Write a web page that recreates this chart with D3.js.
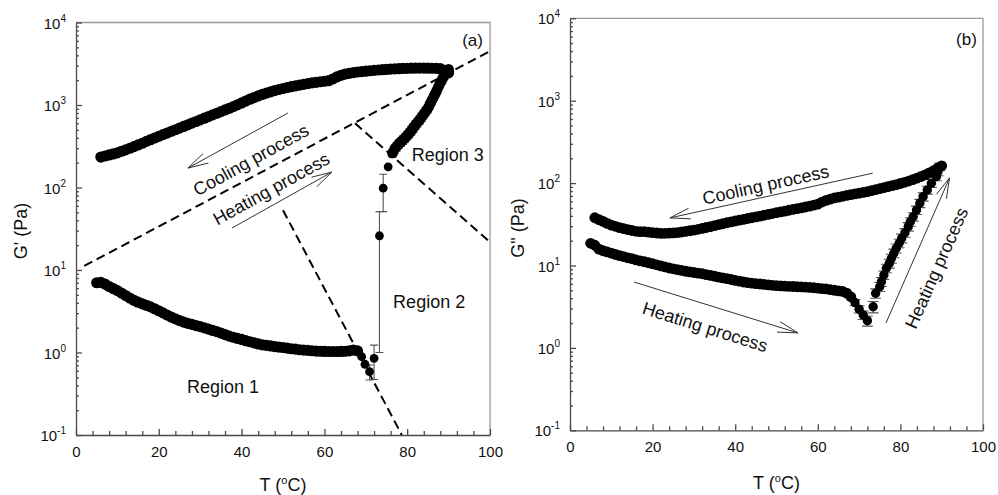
<!DOCTYPE html>
<html>
<head>
<meta charset="utf-8">
<script src="https://cdn.jsdelivr.net/npm/d3@7"></script>
<style>
  body { margin: 0; background: #fff; }
  svg { display: block; font-family: "Liberation Sans", Arial, Helvetica, sans-serif; }
</style>
</head>
<body>
<svg id="chart" width="998" height="495"></svg>
<script>
// ---- (a) storage modulus G' (Pa) vs temperature T (°C) ----
// cooling run, [T, G']
const coolingA = [
  [6,234],[7,241],[8,248],[9,255],[10,263],[11,275],[12,286],[13,299],[14,313],[15,328],
  [16,344],[17,362],[18,380],[19,398],[20,417],[21,437],[22,457],[23,479],[24,501],[25,525],
  [26,550],[27,575],[28,603],[29,631],[30,661],[31,692],[32,724],[33,759],[34,794],[35,832],
  [36,871],[37,912],[38,955],[39,1005],[40,1059],[41,1117],[42,1175],[43,1230],[44,1288],[45,1343],
  [46,1396],[47,1445],[48,1496],[49,1542],[50,1585],[51,1626],[52,1667],[53,1706],[54,1746],[55,1782],
  [56,1820],[57,1854],[58,1884],[59,1914],[60,1941],[61,1972],[62,2065],[63,2188],[64,2291],[65,2371],
  [66,2415],[67,2466],[68,2512],[69,2541],[70,2570],[71,2600],[72,2630],[73,2655],[74,2679],[75,2698],
  [76,2723],[77,2742],[78,2754],[79,2773],[80,2786],[81,2795],[82,2800],[83,2800],[84,2800],[85,2795],
  [86,2790],[87,2786],[88,2754],[89,2630],[90,2455]
];
// heating run, region 1, [T, G']
const heatingA = [
  [5,7.01],[6,7.08],[7,6.76],[8,6.31],[9,5.96],[10,5.62],[11,5.25],[12,4.90],[13,4.57],[14,4.29],
  [15,4.07],[16,3.89],[17,3.73],[18,3.57],[19,3.39],[20,3.20],[21,3.02],[22,2.85],[23,2.69],[24,2.56],
  [25,2.44],[26,2.34],[27,2.26],[28,2.19],[29,2.12],[30,2.06],[31,1.99],[32,1.92],[33,1.85],[34,1.79],
  [35,1.72],[36,1.65],[37,1.58],[38,1.53],[39,1.48],[40,1.44],[41,1.39],[42,1.35],[43,1.31],[44,1.27],
  [45,1.24],[46,1.22],[47,1.20],[48,1.18],[49,1.165],[50,1.15],[51,1.13],[52,1.11],[53,1.10],[54,1.08],
  [55,1.07],[56,1.06],[57,1.05],[58,1.04],[59,1.035],[60,1.03],[61,1.028],[62,1.028],[63,1.028],[64,1.03],
  [65,1.035],[66,1.047],[67,1.07],[68,1.047]
];
// heating run, region 2 (sparse points), [T, G', error]
const transitionA = [
  [69,0.89,0],[69.8,0.72,0],[70.9,0.585,0.12],[72,0.85,0.38],
  [73.3,26,25],[74.2,98,47],[75.4,178,0],[76.3,255,0]
];
// heating run, region 3, [T, G', error]
const region3A = [
  [76.5,263,30],[77,295,35],[77.5,316,38],[78,339,40],[78.5,357,43],[79,377,45],[79.5,401,48],
  [80,427,50],[80.5,457,55],[81,490,60],[81.5,531,65],[82,575,70],[82.5,617,75],[83,661,80],
  [83.5,716,85],[84,776,95],[84.5,841,100],[85,912,110],[85.5,1023,125],[86,1148,140],
  [86.5,1288,155],[87,1445,175],[87.5,1641,200],[88,1862,220],[88.5,2065,250],[89,2291,270],
  [89.5,2512,300],[90,2692,320]
];

// ---- (b) loss modulus G" (Pa) vs temperature T (°C) ----
// cooling run, [T, G"]
const coolingB = [
  [6,38.0],[7,36.1],[8,34.3],[9,32.5],[10,30.9],[11,29.9],[12,28.8],[13,28.0],[14,27.2],[15,26.6],
  [16,26.0],[17,25.8],[18,25.7],[19,25.4],[20,25.1],[21,24.8],[22,24.5],[23,24.6],[24,24.7],[25,24.9],
  [26,25.1],[27,25.5],[28,25.9],[29,26.4],[30,26.9],[31,27.5],[32,28.2],[33,28.9],[34,29.6],[35,30.4],
  [36,31.3],[37,32.1],[38,33.0],[39,33.8],[40,34.7],[41,35.5],[42,36.3],[43,37.2],[44,38.0],[45,38.9],
  [46,39.8],[47,40.7],[48,41.7],[49,42.7],[50,43.7],[51,44.7],[52,45.7],[53,46.8],[54,47.9],[55,49.0],
  [56,50.1],[57,51.3],[58,52.5],[59,54.0],[60,55.6],[61,58.9],[62,61.7],[63,63.8],[64,66.1],[65,67.6],
  [66,69.2],[67,70.8],[68,72.4],[69,74.0],[70,75.5],[71,77.1],[72,78.9],[73,80.9],[74,83.2],[75,85.5],
  [76,88.1],[77,90.6],[78,93.3],[79,95.9],[80,98.9],[81,102.3],[82,105.9],[83,110.2],[84,114.8],[85,120.2],
  [86,125.9],[87,133.4],[88,141.3],[89,151.4],[90,162.2]
];
// heating run up to the minimum, [T, G"]
const heatingB = [
  [5,18.6],[6,17.6],[7,15.8],[8,15.1],[9,14.6],[10,14.1],[11,13.6],[12,13.2],[13,12.8],[14,12.4],
  [15,12.1],[16,11.7],[17,11.4],[18,11.1],[19,10.8],[20,10.5],[21,10.2],[22,9.89],[23,9.6],[24,9.33],
  [25,9.12],[26,8.91],[27,8.71],[28,8.51],[29,8.36],[30,8.22],[31,8.07],[32,7.94],[33,7.76],[34,7.59],
  [35,7.41],[36,7.24],[37,7.08],[38,6.92],[39,6.76],[40,6.61],[41,6.46],[42,6.31],[43,6.19],[44,6.10],
  [45,6.03],[46,5.96],[47,5.89],[48,5.82],[49,5.75],[50,5.69],[51,5.65],[52,5.62],[53,5.58],[54,5.56],
  [55,5.52],[56,5.50],[57,5.46],[58,5.43],[59,5.37],[60,5.31],[61,5.25],[62,5.19],[63,5.09],[64,5.01],
  [65,4.92],[66,4.84],[67,4.62],[68,4.17]
];
// heating run around and after the minimum, [T, G", error]
const risingB = [
  [69,3.55,0.3],[70,2.95,0.3],[71,2.51,0.3],[72,2.14,0.3],
  [73.4,3.16,0.5],[74.0,4.60,0.6],[75.0,5.53,0.7],[75.4,6.35,0.8],[76.0,7.67,0.9],[76.6,9.25,1.1],
  [77.3,10.6,1.3],[77.8,12.2,1.5],[78.4,14.1,1.7],[79.0,16.2,2.0],[79.7,18.6,2.2],[80.3,21.4,2.6],
  [81.1,25.0,3.0],[81.9,29.6,3.5],[82.4,34.0,4.0],[83.1,39.1,4.5],[83.9,47.1,5.5],[84.7,56.9,6.5],
  [85.5,68.4,8],[86.5,82.4,9],[87.5,99.5,11],[88.7,119.7,13],[89.1,138,15],[89.5,158,17]
];

// ---- axis ticks ----
const xTickLabels = [0, 20, 40, 60, 80, 100];
const xMinorStep = 4;
const yExponents = [-1, 0, 1, 2, 3, 4];

// ---- panel layout and annotations ----
const panels = [
  {
    tag: "(a)", tagAt: [98.3, 6100],
    box: { left: 76, right: 490, top: 22.5, bottom: 435 },
    yTitle: "G' (Pa)", yTitleX: 21, yTitleY: 231, xTitleY: 485,
    radius: { dense: 5.6, sparse: 4.4, banded: 5.4 }, capHalf: 4,
    series: { dense: [coolingA, heatingA], sparse: transitionA, banded: region3A },
    guides: [
      [[2, 11.2], [100, 4500]],
      [[67.4, 600], [100, 21.8]],
      [[50, 53], [78.7, 0.1]]
    ],
    arrows: [
      { from: [51.2, 800], to: [27.05, 172] },
      { from: [37.7, 32.3], to: [61.8, 154] }
    ],
    notes: [
      { text: "Cooling process", at: [42.3, 215], angle: -29, anchor: "middle" },
      { text: "Heating process", at: [47.2, 96], angle: -29, anchor: "middle" },
      { text: "Region 3", at: [81.1, 248], angle: 0, anchor: "start" },
      { text: "Region 2", at: [76.6, 4.13], angle: 0, anchor: "start" },
      { text: "Region 1", at: [26.8, 0.382], angle: 0, anchor: "start" }
    ]
  },
  {
    tag: "(b)", tagAt: [98.5, 5460],
    box: { left: 570, right: 983, top: 18.3, bottom: 430.3 },
    yTitle: 'G" (Pa)', yTitleX: 518, yTitleY: 228, xTitleY: 483,
    radius: { dense: 5.4, sparse: 4.4, banded: 4.7 }, capHalf: 5.5,
    series: { dense: [coolingB, heatingB], sparse: [], banded: risingB },
    guides: [],
    arrows: [
      { from: [73.3, 132], to: [24.2, 37.8] },
      { from: [15.5, 6.3], to: [55.2, 1.52] },
      { from: [76.5, 2.0], to: [91.9, 115.6] }
    ],
    notes: [
      { text: "Cooling process", at: [47.4, 94.8], angle: -12.5, anchor: "middle" },
      { text: "Heating process", at: [32.7, 1.79], angle: 17.5, anchor: "middle" },
      { text: "Heating process", at: [88.8, 9.3], angle: -66, anchor: "middle" }
    ]
  }
];

const svg = d3.select("#chart");
const axisColor = "#4a4a4a";
const frameColor = "#999";

function drawPanel(p) {
  const b = p.box;
  const x = d3.scaleLinear().domain([0, 100]).range([b.left, b.right]);
  const y = d3.scaleLog().domain([0.1, 1e4]).range([b.bottom, b.top]);
  const g = svg.append("g");

  // top and right frame
  g.append("path")
    .attr("d", `M${b.left},${b.top}H${b.right}V${b.bottom}`)
    .attr("fill", "none").attr("stroke", frameColor).attr("stroke-width", 1.3);

  // x axis: minor ticks every 4, labelled every 20, ticks pointing inward
  const xAxis = d3.axisBottom(x)
    .tickValues(d3.range(0, 100 + xMinorStep, xMinorStep))
    .tickSize(-4).tickSizeOuter(0).tickPadding(11)
    .tickFormat(d => xTickLabels.includes(d) ? d : "");
  const gx = g.append("g").attr("transform", `translate(0,${b.bottom})`).call(xAxis);
  gx.selectAll(".tick line").filter(d => xTickLabels.includes(d)).attr("y2", -6);
  gx.selectAll("line, path").attr("stroke", axisColor).attr("stroke-width", 1.3);
  gx.selectAll("text").attr("font-size", 15).attr("fill", "#111");
  gx.attr("font-family", null);

  // y axis: log ticks 1..9 per decade
  const yTicks = [];
  yExponents.forEach(e => {
    for (let k = 1; k <= 9; k++) {
      if (e === 4 && k > 1) break;
      yTicks.push(k * Math.pow(10, e));
    }
  });
  const isDecade = d => Math.abs(Math.log10(d) - Math.round(Math.log10(d))) < 1e-9;
  const yAxis = d3.axisLeft(y).tickValues(yTicks).tickSize(-3).tickSizeOuter(0).tickFormat("");
  const gy = g.append("g").attr("transform", `translate(${b.left},0)`).call(yAxis);
  gy.selectAll(".tick line").filter(isDecade).attr("x2", 6);
  gy.selectAll("line, path").attr("stroke", axisColor).attr("stroke-width", 1.3);

  // decade labels 10^n
  yExponents.forEach(e => {
    const t = g.append("text")
      .attr("x", b.left - 10).attr("y", y(Math.pow(10, e)) + 6)
      .attr("text-anchor", "end").attr("font-size", 15).attr("fill", "#111");
    t.append("tspan").text("10");
    t.append("tspan").attr("dy", -7).attr("font-size", 10).text(String(e));
  });

  // axis titles
  g.append("text")
    .attr("transform", `translate(${p.yTitleX},${p.yTitleY}) rotate(-90)`)
    .attr("text-anchor", "middle").attr("dominant-baseline", "central")
    .attr("font-size", 18).attr("fill", "#111").text(p.yTitle);
  const xt = g.append("text")
    .attr("x", (b.left + b.right) / 2).attr("y", p.xTitleY + 6)
    .attr("text-anchor", "middle").attr("font-size", 18).attr("fill", "#111");
  xt.append("tspan").text("T (");
  xt.append("tspan").attr("dy", -7).attr("font-size", 11).text("o");
  xt.append("tspan").attr("dy", 7).text("C)");

  // dashed guide lines
  p.guides.forEach(seg => {
    g.append("line")
      .attr("x1", x(seg[0][0])).attr("y1", y(seg[0][1]))
      .attr("x2", x(seg[1][0])).attr("y2", y(seg[1][1]))
      .attr("stroke", "#000").attr("stroke-width", 2).attr("stroke-dasharray", "9,5");
  });

  // process arrows with open heads
  p.arrows.forEach(a => {
    const x1 = x(a.from[0]), y1 = y(a.from[1]);
    const x2 = x(a.to[0]), y2 = y(a.to[1]);
    const ang = Math.atan2(y1 - y2, x1 - x2);
    const L = 21, spread = 15 * Math.PI / 180;
    const h1 = [x2 + L * Math.cos(ang + spread), y2 + L * Math.sin(ang + spread)];
    const h2 = [x2 + L * Math.cos(ang - spread), y2 + L * Math.sin(ang - spread)];
    g.append("path")
      .attr("d", `M${x1},${y1}L${x2},${y2}M${h1[0]},${h1[1]}L${x2},${y2}L${h2[0]},${h2[1]}`)
      .attr("fill", "none").attr("stroke", "#333").attr("stroke-width", 1);
  });

  // error bars
  const withErr = p.series.sparse.concat(p.series.banded).filter(d => d[2] > 0);
  const eb = g.append("g").attr("stroke", "#555").attr("stroke-width", 1.1);
  const c = p.capHalf;
  withErr.forEach(d => {
    const cx = x(d[0]);
    const yHi = y(d[1] + d[2]);
    const yLo = y(Math.max(d[1] - d[2], 0.1));
    eb.append("path")
      .attr("d", `M${cx},${yHi}V${yLo}M${cx - c},${yHi}H${cx + c}M${cx - c},${yLo}H${cx + c}`)
      .attr("fill", "none");
  });

  // markers
  const marks = g.append("g").attr("fill", "#000");
  [].concat(...p.series.dense).forEach(d => {
    marks.append("circle").attr("cx", x(d[0])).attr("cy", y(d[1])).attr("r", p.radius.dense);
  });
  p.series.sparse.forEach(d => {
    marks.append("circle").attr("cx", x(d[0])).attr("cy", y(d[1])).attr("r", p.radius.sparse);
  });
  p.series.banded.forEach(d => {
    marks.append("circle").attr("cx", x(d[0])).attr("cy", y(d[1])).attr("r", p.radius.banded);
  });

  // text notes
  p.notes.forEach(n => {
    g.append("text")
      .attr("transform", `translate(${x(n.at[0])},${y(n.at[1])}) rotate(${n.angle})`)
      .attr("text-anchor", n.anchor).attr("dominant-baseline", "central")
      .attr("font-size", 18).attr("fill", "#111").text(n.text);
  });

  // panel tag
  g.append("text")
    .attr("x", x(p.tagAt[0])).attr("y", y(p.tagAt[1]))
    .attr("text-anchor", "end").attr("dominant-baseline", "central")
    .attr("font-size", 17).attr("fill", "#111").text(p.tag);
}

panels.forEach(drawPanel);
</script>
</body>
</html>
